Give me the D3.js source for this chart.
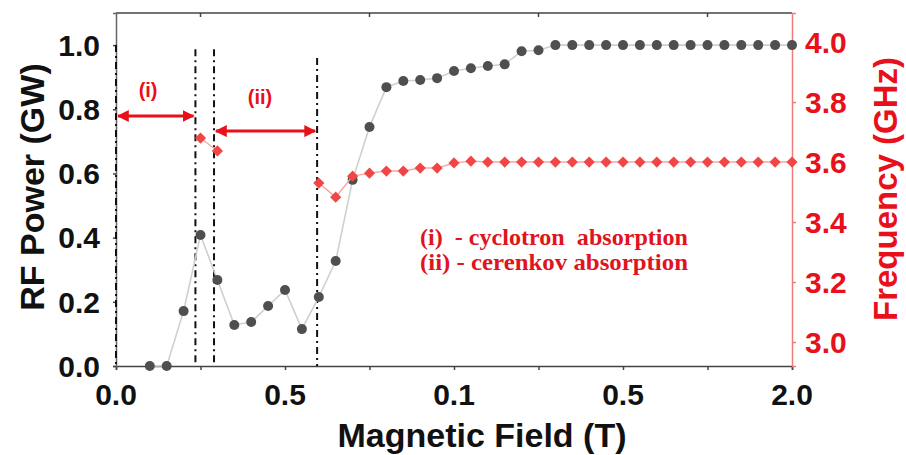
<!DOCTYPE html>
<html>
<head>
<meta charset="utf-8">
<script src="https://cdn.jsdelivr.net/npm/d3@7"></script>
<style>
  body { margin: 0; background: #fff; }
  svg { display: block; }
</style>
</head>
<body>
<div id="chart"></div>
<script>
// magnetic field (T) for every sample
const field = [0.1, 0.15, 0.2, 0.25, 0.3, 0.35, 0.4, 0.45, 0.5, 0.55, 0.6, 0.65, 0.7, 0.75,
  0.8, 0.85, 0.9, 0.95, 1.0, 1.05, 1.1, 1.15, 1.2, 1.25, 1.3, 1.35, 1.4, 1.45, 1.5, 1.55,
  1.6, 1.65, 1.7, 1.75, 1.8, 1.85, 1.9, 1.95, 2.0];

// RF power (GW)
const power = [0, 0, 0.171, 0.408, 0.268, 0.128, 0.137, 0.187, 0.237, 0.115, 0.215, 0.327, 0.58, 0.745,
  0.869, 0.888, 0.891, 0.897, 0.919, 0.928, 0.935, 0.94, 0.981, 0.984, 1.0, 1.0, 1.0, 1.0, 1.0, 1.0,
  1.0, 1.0, 1.0, 1.0, 1.0, 1.0, 1.0, 1.0, 1.0];

// frequency (GHz), null where nothing was measured
const freq = [null, null, null, 3.68, 3.637, null, null, null, null, null, 3.53, 3.483, 3.553, 3.563,
  3.57, 3.57, 3.58, 3.58, 3.597, 3.603, 3.6, 3.6, 3.6, 3.6, 3.6, 3.6, 3.6, 3.6, 3.6, 3.6,
  3.6, 3.6, 3.6, 3.6, 3.6, 3.6, 3.6, 3.6, 3.6];

// x ticks as printed on the original figure
const xTickValues = [0, 0.5, 1.0, 1.5, 2.0];
const xTickLabels = ["0.0", "0.5", "0.1", "0.5", "2.0"];
const leftTicks = [0, 0.2, 0.4, 0.6, 0.8, 1.0];
const rightTicks = [3.0, 3.2, 3.4, 3.6, 3.8, 4.0];

// boundary lines (field, top in GW) and region arrows
const boundaries = [
  { x: 0.0, top: 1.0 },
  { x: 0.235, top: 0.987 },
  { x: 0.29, top: 0.987 },
  { x: 0.595, top: 0.96 },
];
const regions = [
  { label: "(i)", from: 0.0, to: 0.235, y: 0.779, lx: 0.095, ly: 0.86 },
  { label: "(ii)", from: 0.29, to: 0.595, y: 0.732, lx: 0.426, ly: 0.838 },
];
const notes = ["(i)  - cyclotron  absorption", "(ii) - cerenkov absorption"];

const W = 906, H = 455;
const margin = { top: 13, right: 114, bottom: 89, left: 116 };
const width = W - margin.left - margin.right;
const height = H - margin.top - margin.bottom;

const red = "#e8101a";
const sans = "'Liberation Sans', Arial, sans-serif";

const svg = d3.select("#chart").append("svg").attr("width", W).attr("height", H);
const g = svg.append("g").attr("transform", `translate(${margin.left},${margin.top})`);

const x = d3.scaleLinear().domain([0, 2]).range([0, width]);
const yL = d3.scaleLinear().domain([0, 1.1]).range([height, 0]);
const yR = d3.scaleLinear().domain([2.92, 4.097]).range([height, 0]);

// frame: top line with inward ticks at odd quarters
g.append("line").attr("x1", 0).attr("x2", width).attr("y1", 0).attr("y2", 0)
  .attr("stroke", "#444").attr("stroke-width", 1.5);
g.selectAll(".top-tick").data([0.25, 0.75, 1.25, 1.75]).join("line")
  .attr("x1", (d) => x(d)).attr("x2", (d) => x(d)).attr("y1", 0).attr("y2", 4)
  .attr("stroke", "#444").attr("stroke-width", 1.5);

// bottom axis
const xAxis = g.append("g").attr("transform", `translate(0,${height})`)
  .call(d3.axisBottom(x).tickValues(d3.range(0, 2.01, 0.25)).tickSize(4).tickFormat(""));
xAxis.select(".domain").attr("stroke", "#444").attr("stroke-width", 1.5);
xAxis.selectAll(".tick line").attr("stroke", "#444").attr("stroke-width", 1.5);
g.selectAll(".xlab").data(xTickValues).join("text")
  .attr("x", (d) => x(d)).attr("y", height + 39)
  .attr("text-anchor", "middle")
  .style("font", `bold 30px ${sans}`).attr("fill", "#111")
  .text((d, i) => xTickLabels[i]);

// left axis
const leftAxis = g.append("g")
  .call(d3.axisLeft(yL).tickValues(leftTicks).tickSize(3).tickFormat(""));
leftAxis.select(".domain").attr("stroke", "#666").attr("stroke-width", 1.5);
leftAxis.selectAll(".tick line").attr("stroke", "#444").attr("stroke-width", 1.5);
g.selectAll(".ylab").data(leftTicks).join("text")
  .attr("x", -16).attr("y", (d) => yL(d)).attr("dy", "0.36em")
  .attr("text-anchor", "end")
  .style("font", `bold 30px ${sans}`).attr("fill", "#111")
  .text((d) => d.toFixed(1));

// right axis
const rightAxis = g.append("g").attr("transform", `translate(${width},0)`)
  .call(d3.axisRight(yR).tickValues(rightTicks).tickSize(4).tickFormat(""));
rightAxis.select(".domain").attr("stroke", "#f07b7b").attr("stroke-width", 1.5);
rightAxis.selectAll(".tick line").attr("stroke", "#f07b7b").attr("stroke-width", 1.5);
g.selectAll(".rlab").data(rightTicks).join("text")
  .attr("x", width + 13).attr("y", (d) => yR(d)).attr("dy", "0.36em")
  .style("font", `bold 30px ${sans}`).attr("fill", red)
  .text((d) => d.toFixed(1));

// axis titles
svg.append("text")
  .attr("x", 482).attr("y", 447)
  .attr("text-anchor", "middle")
  .style("font", `bold 34px ${sans}`).attr("fill", "#111")
  .text("Magnetic Field (T)");
svg.append("text")
  .attr("transform", `translate(44,187) rotate(-90)`)
  .attr("text-anchor", "middle")
  .style("font", `bold 34px ${sans}`).attr("fill", "#111")
  .text("RF Power (GW)");
svg.append("text")
  .attr("transform", `translate(897,189) rotate(-90)`)
  .attr("text-anchor", "middle")
  .style("font", `bold 33px ${sans}`).attr("fill", red)
  .text("Frequency (GHz)");

// dash-dot region boundaries
g.selectAll(".boundary").data(boundaries).join("line")
  .attr("x1", (d) => x(d.x)).attr("x2", (d) => x(d.x))
  .attr("y1", (d) => yL(d.top)).attr("y2", height)
  .attr("stroke", "#111").attr("stroke-width", 2)
  .attr("stroke-dasharray", "7,4,2,4");

// arrows
const defs = svg.append("defs");
defs.append("marker").attr("id", "ah").attr("viewBox", "0 0 10 10")
  .attr("refX", 9).attr("refY", 5).attr("markerWidth", 4).attr("markerHeight", 4)
  .attr("orient", "auto-start-reverse")
  .append("path").attr("d", "M0,0L10,5L0,10z").attr("fill", red);
g.selectAll(".arrow").data(regions).join("line")
  .attr("x1", (d) => x(d.from) + 2).attr("x2", (d) => x(d.to) - 2)
  .attr("y1", (d) => yL(d.y)).attr("y2", (d) => yL(d.y))
  .attr("stroke", red).attr("stroke-width", 3)
  .attr("marker-start", "url(#ah)").attr("marker-end", "url(#ah)");
g.selectAll(".rlabel").data(regions).join("text")
  .attr("x", (d) => x(d.lx)).attr("y", (d) => yL(d.ly)).attr("dy", "0.36em")
  .attr("text-anchor", "middle")
  .style("font", `bold 20px ${sans}`).attr("fill", red)
  .text((d) => d.label);

// power series
const powerPts = field.map((f, i) => ({ f, v: power[i] }));
g.append("path").datum(powerPts)
  .attr("fill", "none").attr("stroke", "#cfcfcf").attr("stroke-width", 1.6)
  .attr("d", d3.line().x((d) => x(d.f)).y((d) => yL(d.v)));
g.selectAll(".pdot").data(powerPts).join("circle")
  .attr("cx", (d) => x(d.f)).attr("cy", (d) => yL(d.v)).attr("r", 5)
  .attr("fill", "#4f4f4f");

// frequency series
const freqPts = field.map((f, i) => ({ f, v: freq[i] }));
g.append("path").datum(freqPts)
  .attr("fill", "none").attr("stroke", "#f7a5a5").attr("stroke-width", 1.4)
  .attr("d", d3.line().defined((d) => d.v != null).x((d) => x(d.f)).y((d) => yR(d.v)));
g.selectAll(".fdot").data(freqPts.filter((d) => d.v != null)).join("path")
  .attr("transform", (d) => `translate(${x(d.f)},${yR(d.v)})`)
  .attr("d", d3.symbol(d3.symbolDiamond2, 80))
  .attr("fill", "#f24646");

// notes
g.selectAll(".note").data(notes).join("text")
  .attr("x", 304).attr("y", (d, i) => 232 + i * 25)
  .attr("textLength", 268).attr("lengthAdjust", "spacingAndGlyphs")
  .style("font", "bold 23px 'Liberation Serif', 'Times New Roman', serif")
  .attr("fill", "#e0141e")
  .attr("xml:space", "preserve").style("white-space", "pre")
  .text((d) => d);
</script>
</body>
</html>
